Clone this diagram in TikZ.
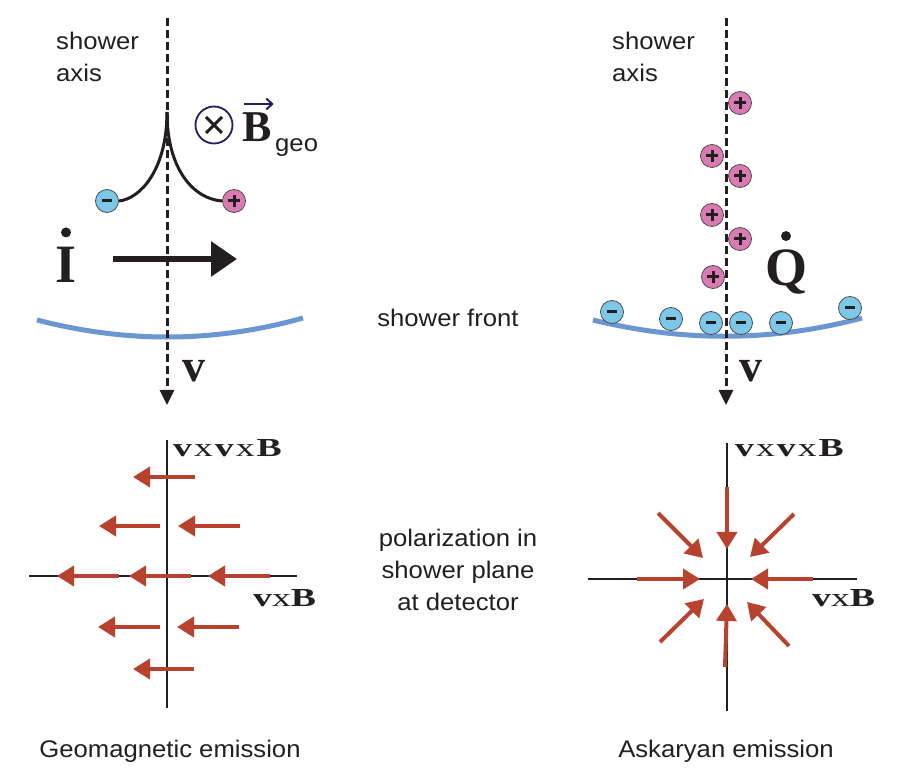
\RequirePackage{fix-cm}
\documentclass[tikz,border=0pt]{standalone}
\usepackage[no-math]{fontspec}
\setmainfont{Liberation Sans}[FakeStretch=1.07]
\newfontfamily\symfont{Liberation Serif}
\newfontfamily\lblfont{Liberation Serif}[FakeStretch=1.45]
\usetikzlibrary{arrows.meta}
\usetikzlibrary{positioning}

\definecolor{ink}{RGB}{35,31,32}
\definecolor{navy}{RGB}{36,32,94}
\definecolor{negblue}{RGB}{125,200,232}
\definecolor{pospink}{RGB}{217,123,176}
\definecolor{frontblue}{RGB}{107,150,209}
\definecolor{polred}{RGB}{183,67,47}

\newcommand{\vxvxb}{{\bfseries v}\kern2pt x\kern2pt{\bfseries v}\kern2pt x\kern2pt{\bfseries B}}
\newcommand{\vxb}{{\bfseries v}x{\bfseries B}}

\tikzset{
  txt/.style={font=\fontsize{24}{32}\selectfont, text=ink, inner sep=0pt},
  lab/.style={font=\lblfont\fontsize{26}{28}\selectfont, text=ink, inner sep=0pt},
  sym/.style={text=ink, inner sep=0pt},
  axisline/.style={ink, line width=3pt, dash pattern=on 8pt off 4pt, -{Triangle[length=15pt,width=14pt]}},
  charge/.style={circle, draw=ink!80, line width=0.8pt, minimum size=23pt, inner sep=0pt},
  negchg/.style={charge, fill=negblue, path picture={
      \draw[ink, line width=3pt] ([xshift=-5pt]path picture bounding box.center) -- ([xshift=5pt]path picture bounding box.center);}},
  poschg/.style={charge, fill=pospink, path picture={
      \draw[ink, line width=3pt] ([xshift=-6pt]path picture bounding box.center) -- ([xshift=6pt]path picture bounding box.center)
        ([yshift=-6pt]path picture bounding box.center) -- ([yshift=6pt]path picture bounding box.center);}},
  front/.style={frontblue, line width=5pt},
  plane/.style={ink, line width=2.5pt},
  pol/.style={polred, line width=4pt, -{Triangle[length=17pt,width=20pt]}},
}

\begin{document}
\begin{tikzpicture}[x=1pt,y=-1pt]
\useasboundingbox (0,0) rectangle (898,783);

% shower fronts
\coordinate (fl_a) at (37,320);
\coordinate (fl_b) at (303,318);
\coordinate (fr_a) at (593,320);
\coordinate (fr_b) at (862,318);
\draw[front] (fl_a) .. controls (126,343) and (214,343) .. (fl_b);
\draw[front] (fr_a) .. controls (683,342) and (772,342) .. (fr_b);

% shower axes
\coordinate (axl_top) at (167,18);
\coordinate (axl_bot) at (167,405);
\coordinate (axr_top) at (726,18);
\coordinate (axr_bot) at (726,405);
\draw[axisline] (axl_top) -- (axl_bot);
\draw[axisline] (axr_top) -- (axr_bot);

\node[txt, anchor=base west, align=left] (axl_lbl) at (56,82) {shower\\axis};
\node[txt, anchor=base west, align=left] (axr_lbl) at (612,82) {shower\\axis};
\node[txt, anchor=base] (front_lbl) at (448,327) {shower front};

% geomagnetic side
\coordinate (cusp) at (167,112);
\node[negchg] (neg_0) at (107,201) {};
\node[poschg] (pos_0) at (234,201) {};
\draw[ink, line width=3pt] (cusp) .. controls (167,170) and (140,199) .. (neg_0.east);
\draw[ink, line width=3pt] (cusp) .. controls (167,170) and (194,199) .. (pos_0.west);

\node[circle, draw=navy, line width=1.8pt, minimum size=37pt, inner sep=0pt, path picture={
    \draw[ink, line width=3pt] ([shift={(-8pt,-8pt)}]path picture bounding box.center) -- ([shift={(8pt,8pt)}]path picture bounding box.center)
      ([shift={(-8pt,8pt)}]path picture bounding box.center) -- ([shift={(8pt,-8pt)}]path picture bounding box.center);}]
  (bfield) at (214,125) {};
\node[sym, font=\symfont\bfseries\fontsize{44}{44}\selectfont, anchor=base west] (bgeo) at (242,142) {B};
\node[txt, anchor=base west] (geo) at (275,152) {geo};
\draw[navy, line width=2pt, -{Straight Barb[length=6pt,width=11pt]}]
  ([shift={(2pt,9pt)}]bgeo.north west) -- ([shift={(2pt,9pt)}]bgeo.north east);

\node[sym, font=\symfont\bfseries\fontsize{54}{54}\selectfont, anchor=base] (curr) at (66,283) {I};
\fill[ink] ([yshift=15pt]curr.north) circle (5pt);
\coordinate (ia_s) at (113,259);
\coordinate (ia_e) at (237,259);
\draw[ink, line width=6pt, -{Triangle[length=26pt,width=34pt]}] (ia_s) -- (ia_e);

\node[sym, font=\symfont\bfseries\fontsize{46}{46}\selectfont, anchor=base west] (vel_l) at (182,382) {v};

% askaryan side
\node[poschg] (pos_1) at (740,103) {};
\node[poschg] (pos_2) at (712,156) {};
\node[poschg] (pos_3) at (740,176) {};
\node[poschg] (pos_4) at (712,215) {};
\node[poschg] (pos_5) at (740,239) {};
\node[poschg] (pos_6) at (713,277) {};
\node[negchg] (neg_1) at (612,312) {};
\node[negchg] (neg_2) at (671,319) {};
\node[negchg] (neg_3) at (711,323) {};
\node[negchg] (neg_4) at (741,323) {};
\node[negchg] (neg_5) at (781,323) {};
\node[negchg] (neg_6) at (850,308) {};

\node[sym, font=\symfont\bfseries\fontsize{54}{54}\selectfont, anchor=base] (qdot) at (786,286) {Q};
\fill[ink] ([yshift=14pt]qdot.north) circle (5pt);
\node[sym, font=\symfont\bfseries\fontsize{46}{46}\selectfont, anchor=base west] (vel_r) at (739,382) {v};

% shower planes
\coordinate (pl_t) at (167,440);
\coordinate (pl_b) at (167,708);
\coordinate (pl_l) at (29,576);
\coordinate (pl_r) at (297,576);
\draw[plane] (pl_t) -- (pl_b);
\draw[plane] (pl_l) -- (pl_r);
\coordinate (pr_t) at (727,443);
\coordinate (pr_b) at (727,711);
\coordinate (pr_l) at (588,579);
\coordinate (pr_r) at (857,579);
\draw[plane] (pr_t) -- (pr_b);
\draw[plane] (pr_l) -- (pr_r);

\node[lab, anchor=base west] (vvb_l) at (173,457) {\vxvxb};
\node[lab, anchor=base west] (vb_l) at (253,607) {\vxb};
\node[lab, anchor=base west] (vvb_r) at (735,457) {\vxvxb};
\node[lab, anchor=base west] (vb_r) at (812,607) {\vxb};

% geomagnetic polarization
\draw[pol] (195,477) -- (133,477);
\draw[pol] (160,526) -- (99,526);
\draw[pol] (240,526) -- (178,526);
\draw[pol] (119,576) -- (57,576);
\draw[pol] (191,576) -- (129,576);
\draw[pol] (270,576) -- (208,576);
\draw[pol] (160,627) -- (98,627);
\draw[pol] (239,627) -- (177,627);
\draw[pol] (194,669) -- (133,669);

% askaryan polarization
\draw[pol] (727,487) -- (727,549);
\draw[pol] (725,667) -- (727,604);
\draw[pol] (637,579) -- (700,579);
\draw[pol] (813,579) -- (751,579);
\draw[pol] (658,513) -- (703,558);
\draw[pol] (794,514) -- (750,557);
\draw[pol] (660,642) -- (704,599);
\draw[pol] (789,646) -- (747,602);

\node[txt, anchor=base, align=center] (pol_lbl) at (458,611) {polarization in\\shower plane\\at detector};
\node[txt, anchor=base] (geo_lbl) at (170,757) {Geomagnetic emission};
\node[txt, anchor=base] (ask_lbl) at (726,757) {Askaryan emission};
\end{tikzpicture}
\end{document}
